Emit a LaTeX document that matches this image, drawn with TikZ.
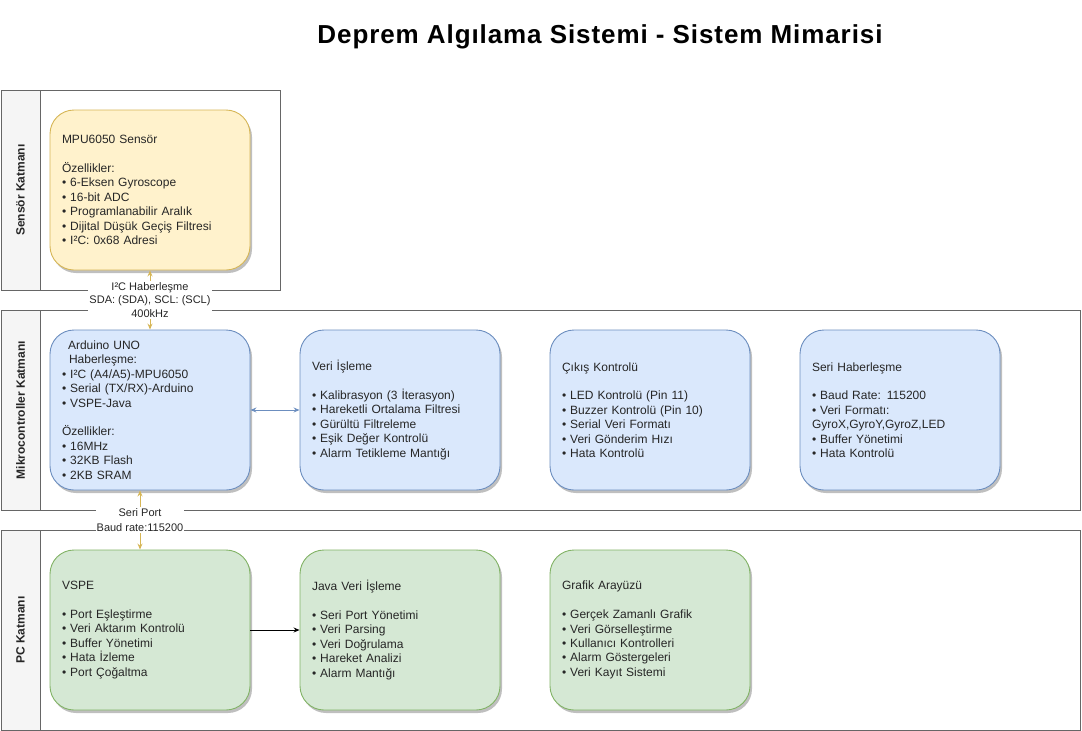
\documentclass[tikz,border=0pt]{standalone}
\usepackage{fontspec}
\setmainfont{Liberation Sans}
\usetikzlibrary{shadows,arrows.meta}
\definecolor{yfill}{HTML}{FFF2CC}
\definecolor{ydraw}{HTML}{D6B656}
\definecolor{bfill}{HTML}{DAE8FC}
\definecolor{bdraw}{HTML}{6C8EBF}
\definecolor{gfill}{HTML}{D5E8D4}
\definecolor{gdraw}{HTML}{82B366}
\definecolor{lanec}{HTML}{666666}
\definecolor{lanehd}{HTML}{F5F5F5}
\begin{document}
\begin{tikzpicture}[x=1pt,y=-1pt,
  box/.style={rounded corners=24pt, minimum width=200pt, minimum height=160pt,
    text width=176pt, align=left, inner xsep=12pt, inner ysep=0pt, line width=0.9pt,
    font=\fontsize{12}{14.4}\selectfont, text=black!85,
    drop shadow={shadow xshift=2pt, shadow yshift=-3pt, opacity=0.25, fill=black}},
  ybox/.style={box, fill=yfill, draw=ydraw},
  bbox/.style={box, fill=bfill, draw=bdraw},
  gbox/.style={box, fill=gfill, draw=gdraw},
  lanebox/.style={draw=lanec, line width=0.9pt},
  lanehead/.style={draw=lanec, fill=lanehd, line width=0.9pt},
  lanetitle/.style={rotate=90, font=\bfseries\fontsize{12}{14.4}\selectfont, text=black!85},
  clabel/.style={fill=white, inner xsep=1pt, inner ysep=2pt, align=center, text=black!85,
    font=\fontsize{11}{13.2}\selectfont},
  tip/.style={-{Stealth[length=6pt,width=5pt]}},
  dtip/.style={{Stealth[length=6pt,width=5pt]}-{Stealth[length=6pt,width=5pt]}}
]
\useasboundingbox (0,0) rectangle (1082,731);

% title
\node[font=\bfseries\fontsize{26}{30}\selectfont\addfontfeature{LetterSpace=3.5}, text=black] (title) at (600,37) {Deprem Algılama Sistemi - Sistem Mimarisi};

% lanes
\draw[lanebox] (1,90) rectangle (280,290);
\draw[lanehead] (1,90) rectangle (40,290);
\node[lanetitle] (lane1) at (20.5,190) {Sensör Katmanı};

\draw[lanebox] (1,310) rectangle (1080,510);
\draw[lanehead] (1,310) rectangle (40,510);
\node[lanetitle] (lane2) at (20.5,410) {Mikrocontroller Katmanı};

\draw[lanebox] (1,530) rectangle (1080,730);
\draw[lanehead] (1,530) rectangle (40,730);
\node[lanetitle] (lane3) at (20.5,630) {PC Katmanı};

% sensor layer
\node[ybox] (mpu) at (150,190) {MPU6050 Sensör\\[14.4pt]Özellikler:\\• 6-Eksen Gyroscope\\• 16-bit ADC\\• Programlanabilir Aralık\\• Dijital Düşük Geçiş Filtresi\\• I²C: 0x68 Adresi};

% microcontroller layer
\node[bbox] (ard) at (150,410) {\hspace*{6pt}Arduino UNO\\\hspace*{7pt}Haberleşme:\\• I²C (A4/A5)-MPU6050\\• Serial (TX/RX)-Arduino\\• VSPE-Java\\[14.4pt]Özellikler:\\• 16MHz\\• 32KB Flash\\• 2KB SRAM};
\node[bbox] (veri) at (400,410) {Veri İşleme\\[14.4pt]• Kalibrasyon (3 İterasyon)\\• Hareketli Ortalama Filtresi\\• Gürültü Filtreleme\\• Eşik Değer Kontrolü\\• Alarm Tetikleme Mantığı};
\node[bbox] (cikis) at (650,410) {Çıkış Kontrolü\\[14.4pt]• LED Kontrolü (Pin 11)\\• Buzzer Kontrolü (Pin 10)\\• Serial Veri Formatı\\• Veri Gönderim Hızı\\• Hata Kontrolü};
\node[bbox] (seri) at (900,410) {Seri Haberleşme\\[14.4pt]• Baud Rate: 115200\\• Veri Formatı:\\GyroX,GyroY,GyroZ,LED\\• Buffer Yönetimi\\• Hata Kontrolü};

% PC layer
\node[gbox] (vspe) at (150,630) {VSPE\\[14.4pt]• Port Eşleştirme\\• Veri Aktarım Kontrolü\\• Buffer Yönetimi\\• Hata İzleme\\• Port Çoğaltma};
\node[gbox] (java) at (400,630) {Java Veri İşleme\\[14.4pt]• Seri Port Yönetimi\\• Veri Parsing\\• Veri Doğrulama\\• Hareket Analizi\\• Alarm Mantığı};
\node[gbox] (graf) at (650,630) {Grafik Arayüzü\\[14.4pt]• Gerçek Zamanlı Grafik\\• Veri Görselleştirme\\• Kullanıcı Kontrolleri\\• Alarm Göstergeleri\\• Veri Kayıt Sistemi};

% connectors
\draw[dtip, draw=ydraw, line width=0.9pt] (mpu.south) -- (ard.north)
  node[clabel, midway] (i2c) {I²C Haberleşme\\SDA: (SDA), SCL: (SCL)\\400kHz};
\draw[dtip, draw=ydraw, line width=0.9pt] ([xshift=-10pt]ard.south) -- ([xshift=-10pt]vspe.north)
  node[clabel, midway, font=\fontsize{11}{14.5}\selectfont] (sp) {Seri Port\\Baud rate:115200};
\draw[dtip, draw=bdraw, line width=0.9pt] (ard.east) -- (veri.west);
\draw[tip, draw=black, line width=0.9pt] (vspe.east) -- (java.west);
\end{tikzpicture}
\end{document}
